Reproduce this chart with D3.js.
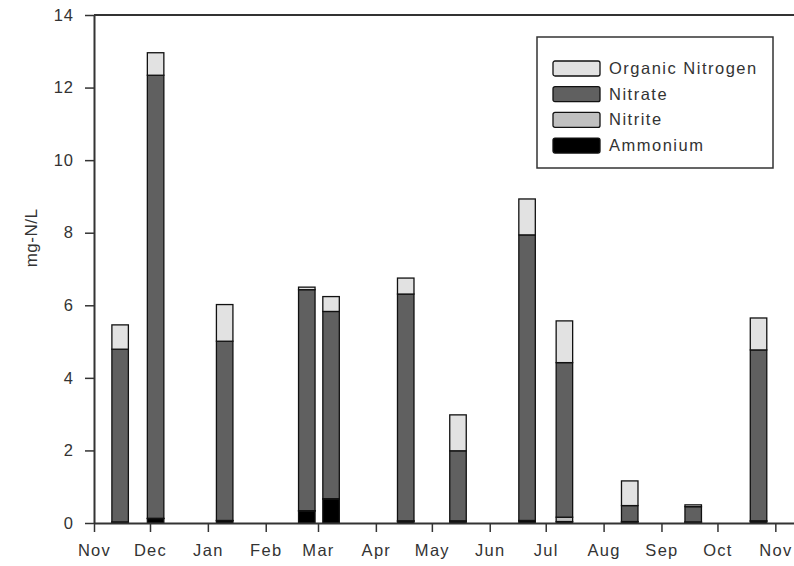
<!DOCTYPE html>
<html>
<head>
<meta charset="utf-8">
<script src="https://cdn.jsdelivr.net/npm/d3@7"></script>
<style>
  body { margin: 0; background: #fff; }
  svg { display: block; }
  text { font-family: "Liberation Sans", Arial, sans-serif; fill: #333; }
</style>
</head>
<body>
<svg id="chart" width="794" height="566"></svg>
<script>
// Sampling dates and nitrogen fractions (mg-N/L), stacked bottom to top
const sampleDates = ["2006-11-15", "2006-12-04", "2007-01-10", "2007-02-23", "2007-03-08", "2007-04-17",
                     "2007-05-15", "2007-06-21", "2007-07-11", "2007-08-15", "2007-09-18", "2007-10-23"];
const ammonium = [0.02, 0.12, 0.06, 0.33, 0.66, 0.05, 0.05, 0.06, 0.04, 0.03, 0.02, 0.05];
const nitrite  = [0.01, 0.01, 0.01, 0.01, 0.01, 0.01, 0.01, 0.01, 0.12, 0.01, 0.01, 0.01];
const nitrate  = [4.76, 12.21, 4.94, 6.09, 5.16, 6.25, 1.93, 7.87, 4.26, 0.44, 0.42, 4.71];
const organicN = [0.67, 0.62, 1.01, 0.07, 0.41, 0.44, 0.99, 0.99, 1.15, 0.68, 0.05, 0.88];

const yTicks = [0, 2, 4, 6, 8, 10, 12, 14];

const seriesKeys   = ["ammonium", "nitrite", "nitrate", "organic"];
const seriesLabels = { organic: "Organic Nitrogen", nitrate: "Nitrate", nitrite: "Nitrite", ammonium: "Ammonium" };
const seriesColors = { organic: "#e2e2e2", nitrate: "#606060", nitrite: "#c0c0c0", ammonium: "#000000" };

const parse = d3.utcParse("%Y-%m-%d");
const rows = sampleDates.map((d, i) => ({
  date: parse(d),
  ammonium: ammonium[i],
  nitrite: nitrite[i],
  nitrate: nitrate[i],
  organic: organicN[i]
}));

const svg = d3.select("#chart");
const plotLeft = 94, plotRight = 794, plotTop = 15, plotBottom = 523;

const x = d3.scaleUtc()
  .domain([parse("2006-11-01"), parse("2007-11-11")])
  .range([plotLeft, plotRight]);
const y = d3.scaleLinear().domain([0, 14]).range([plotBottom, plotTop]);

const barWidth = 16.5;
const stacked = d3.stack().keys(seriesKeys)(rows);

// Stacked bars
const layers = svg.append("g").selectAll("g")
  .data(stacked)
  .join("g")
  .attr("fill", d => seriesColors[d.key]);

layers.selectAll("rect")
  .data(d => d)
  .join("rect")
  .attr("x", d => x(d.data.date) - barWidth / 2)
  .attr("width", barWidth)
  .attr("y", d => y(d[1]))
  .attr("height", d => Math.max(0, y(d[0]) - y(d[1])))
  .attr("stroke", "#111")
  .attr("stroke-width", 1.3);

// Axes
const axisColor = "#333";
const xAxis = svg.append("g")
  .attr("transform", `translate(0,${plotBottom})`)
  .call(d3.axisBottom(x)
    .ticks(d3.utcMonth.every(1))
    .tickFormat(d3.utcFormat("%b"))
    .tickSize(9)
    .tickSizeOuter(0)
    .tickPadding(12));
xAxis.select(".domain").attr("stroke", axisColor).attr("stroke-width", 2);
xAxis.selectAll(".tick line").attr("stroke", axisColor).attr("stroke-width", 1.5);
xAxis.selectAll(".tick text").attr("font-size", 16.5).attr("letter-spacing", 1.3).attr("fill", "#333");

const yAxis = svg.append("g")
  .attr("transform", `translate(${plotLeft},0)`)
  .call(d3.axisLeft(y)
    .tickValues(yTicks)
    .tickFormat(d3.format("d"))
    .tickSize(9)
    .tickSizeOuter(0)
    .tickPadding(11));
yAxis.select(".domain").attr("stroke", axisColor).attr("stroke-width", 2);
yAxis.selectAll(".tick line").attr("stroke", axisColor).attr("stroke-width", 1.5);
yAxis.selectAll(".tick text").attr("font-size", 16.5).attr("letter-spacing", 1).attr("fill", "#333");

// Top frame line
svg.append("line")
  .attr("x1", plotLeft).attr("x2", plotRight)
  .attr("y1", y(14)).attr("y2", y(14))
  .attr("stroke", axisColor).attr("stroke-width", 2);

// Y axis title
svg.append("text")
  .attr("transform", `translate(37,238) rotate(-90)`)
  .attr("text-anchor", "middle")
  .attr("font-size", 17)
  .attr("letter-spacing", 0.5)
  .text("mg-N/L");

// Legend
const legend = svg.append("g");
legend.append("rect")
  .attr("x", 537).attr("y", 37)
  .attr("width", 236).attr("height", 131)
  .attr("fill", "#fff")
  .attr("stroke", axisColor).attr("stroke-width", 1.5);

const legendOrder = ["organic", "nitrate", "nitrite", "ammonium"];
const item = legend.selectAll("g.item")
  .data(legendOrder)
  .join("g")
  .attr("class", "item")
  .attr("transform", (d, i) => `translate(553,${61 + i * 25.7})`);

item.append("rect")
  .attr("width", 47).attr("height", 15)
  .attr("rx", 2)
  .attr("fill", d => seriesColors[d])
  .attr("stroke", "#111").attr("stroke-width", 1.3);

item.append("text")
  .attr("x", 56).attr("y", 13)
  .attr("font-size", 16.5)
  .attr("letter-spacing", 1.5)
  .text(d => seriesLabels[d]);
</script>
</body>
</html>
